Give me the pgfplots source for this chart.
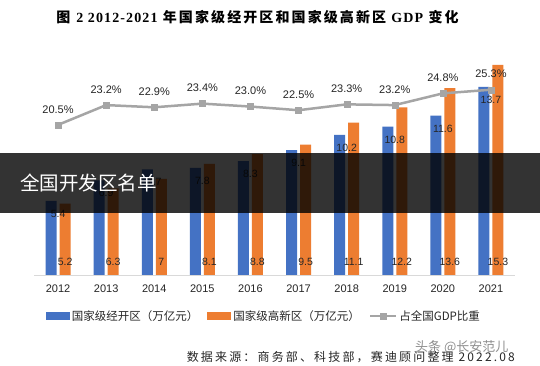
\documentclass[border=0pt]{standalone}
\usepackage{pgfplots}
\pgfplotsset{compat=1.18}
\usepackage{fontspec}
\setmainfont{Liberation Sans}
\newfontfamily\cjk{Noto Sans CJK SC}
\newfontfamily\cjkt{Noto Sans CJK SC}[LetterSpace=15]
\newfontfamily\serift{Liberation Serif}[LetterSpace=8]
\newfontfamily\srcfont{Noto Sans CJK SC}[LetterSpace=18]
\definecolor{cblue}{HTML}{4472C4}
\definecolor{corange}{HTML}{ED7D31}
\definecolor{cgray}{HTML}{A5A5A5}
\definecolor{ctext}{HTML}{262626}
\begin{document}
\begin{tikzpicture}[x=1pt,y=1pt]
\path[use as bounding box, fill=white] (0,0) rectangle (540,366);
\begin{axis}[
  at={(34pt,91pt)}, anchor=south west,
  scale only axis, width=481pt, height=219.7pt,
  xmin=-0.5, xmax=9.5, ymin=0, ymax=16,
  axis y line=none, axis x line*=bottom,
  x axis line style={draw=black!15, line width=0.8pt, -},
  xtick={0,1,2,3,4,5,6,7,8,9},
  xticklabels={2012,2013,2014,2015,2016,2017,2018,2019,2020,2021},
  major tick length=0pt,
  xticklabel style={font=\fontsize{11}{13}\selectfont, text=ctext, yshift=-6pt},
  /pgf/number format/assume math mode=true,
  clip=false,
  legend style={draw=none, fill=none, at={(0.478,-0.187)}, anchor=center,
    font=\cjk\fontsize{11.5}{14}\selectfont, text=ctext,
    /tikz/every even column/.append style={column sep=7pt}},
  legend columns=3, legend cell align=left,
]
\addplot[ybar, bar width=11pt, bar shift=-7pt, fill=cblue, draw=none,
  nodes near coords,
  every node near coord/.append style={anchor=center, yshift=-13pt, font=\fontsize{10.5}{12}\selectfont, text=ctext},
  legend image code/.code={\fill[cblue] (0pt,-4pt) rectangle (24pt,4pt);}]
  coordinates {(0,5.4) (1,6.9) (2,7.7) (3,7.8) (4,8.3) (5,9.1) (6,10.2) (7,10.8) (8,11.6) (9,13.7)};
\addlegendentry{国家级经开区（万亿元）}
\addplot[ybar, bar width=11pt, bar shift=7pt, fill=corange, draw=none,
  legend image code/.code={\fill[corange] (0pt,-4pt) rectangle (24pt,4pt);}]
  coordinates {(0,5.2) (1,6.3) (2,7.0) (3,8.1) (4,8.8) (5,9.5) (6,11.1) (7,12.2) (8,13.6) (9,15.3)};
\addlegendentry{国家级高新区（万亿元）}
\addplot[draw=none, mark=none, forget plot, nodes near coords, point meta=explicit symbolic,
  every node near coord/.append style={anchor=center, xshift=7pt, yshift=13pt, font=\fontsize{10.5}{12}\selectfont, text=ctext}]
  coordinates {(0,0)[5.2] (1,0)[6.3] (2,0)[7] (3,0)[8.1] (4,0)[8.8] (5,0)[9.5] (6,0)[11.1] (7,0)[12.2] (8,0)[13.6] (9,0)[15.3]};
\addlegendimage{legend image code/.code={\draw[cgray, line width=2.5pt] (0pt,0pt) -- (26pt,0pt); \fill[cgray] (10pt,-3pt) rectangle (16pt,3pt);}}
\addlegendentry{占全国GDP比重}
\end{axis}
\begin{axis}[
  at={(34pt,91pt)}, anchor=south west,
  scale only axis, width=481pt, height=219.7pt,
  xmin=-0.5, xmax=9.5, ymin=0, ymax=30,
  hide axis, clip=false,
]
\addplot[cgray, line width=2.5pt, mark=square*, mark size=3pt,
  mark options={solid, line width=0.3pt, fill=cgray},
  nodes near coords, point meta=explicit symbolic,
  every node near coord/.append style={anchor=center, yshift=15.5pt, font=\fontsize{11}{13}\selectfont, text=ctext}]
  coordinates {(0,20.5)[20.5\%] (1,23.2)[23.2\%] (2,22.9)[22.9\%] (3,23.4)[23.4\%] (4,23.0)[23.0\%]
               (5,22.5)[22.5\%] (6,23.3)[23.3\%] (7,23.2)[23.2\%] (8,24.8)[24.8\%] (9,25.3)[25.3\%]};
\end{axis}
% title
\node[anchor=center, inner sep=0pt, text=black] at (257.5,349)
  {\cjkt\bfseries\fontsize{14}{16}\selectfont 图\hspace{6pt}{\serift\bfseries 2 2012-2021} 年国家级经开区和国家级高新区 {\serift\bfseries GDP} 变化};
% source
\node[anchor=east, inner sep=0pt, text=ctext] at (515,9)
  {\srcfont\fontsize{12}{14}\selectfont 数据来源：商务部、科技部，赛迪顾问整理 2022.08};
% overlay banner
\fill[black, opacity=0.8] (0,153) rectangle (540,213);
\node[anchor=west, inner sep=0pt, text=white] at (20,183)
  {\cjk\fontsize{19.5}{22}\selectfont 全国开发区名单};
% watermark
\node[anchor=west, inner sep=0pt, text=black!55, opacity=0.8] at (415,19)
  {\cjk\fontsize{13}{15}\selectfont 头条 @长安范儿};
\end{tikzpicture}
\end{document}
